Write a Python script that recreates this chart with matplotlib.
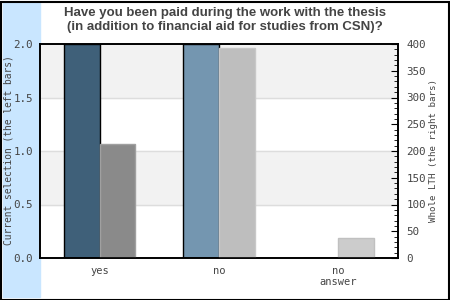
import matplotlib
matplotlib.use('Agg')
import matplotlib.pyplot as plt
import numpy as np
from matplotlib.patches import Rectangle

categories = ['yes', 'no', 'no\nanswer']
current_sel = [2, 2, 0]
whole_lth = [213, 393, 38]

left_colors = ['#3f6079', '#7496b0', '#9fb8cc']
right_colors = ['#8a8a8a', '#bebebe', '#cccccc']

fig = plt.figure(figsize=(4.5, 3), dpi=100)
fig.patches.append(Rectangle((3/450, 3/300), 37/450, 294/300, transform=fig.transFigure,
                             color='#c9e6ff', zorder=-1))
fig.patches.append(Rectangle((0.5/450, 0.5/300), 448/450, 298/300, transform=fig.transFigure,
                             fill=False, edgecolor='black', linewidth=1.5, zorder=5))

ax = fig.add_axes([40/450, 42/300, 358/450, 214/300])
ax2 = ax.twinx()

x = np.arange(len(categories))
w = 0.3

# striped background
for lo, hi in [(0.5, 1.0), (1.5, 2.0)]:
    ax.axhspan(lo, hi, color='#f2f2f2', zorder=0)
for yv in [0.5, 1.0, 1.5]:
    ax.axhline(yv, color='#dddddd', linewidth=1, zorder=0.5)

ax.bar(x - w/2, current_sel, width=w, color=left_colors, edgecolor='black', linewidth=1, zorder=2)
ax2.bar(x + w/2, whole_lth, width=w, color=right_colors, edgecolor=['#a0a0a0', '#c8c8c8', '#c0c0c0'],
        linewidth=1, zorder=2)

ax.set_xlim(-0.5, 2.5)
ax.set_ylim(0, 2.0)
ax2.set_ylim(0, 400)

mono = 'DejaVu Sans Mono'
tc = '#444444'
ax.set_yticks([0, 0.5, 1.0, 1.5, 2.0])
ax.set_yticklabels(['0.0', '0.5', '1.0', '1.5', '2.0'], family=mono, fontsize=7.8, color=tc)
ax.tick_params(axis='y', length=0, pad=5)
ax.set_xticks(x)
ax.set_xticklabels(categories, family=mono, fontsize=7.5, color=tc, linespacing=1.1)
ax.tick_params(axis='x', length=0, pad=6)

ax2.set_yticks(np.arange(0, 401, 50))
ax2.set_yticklabels([str(v) for v in range(0, 401, 50)], family=mono, fontsize=7.8, color=tc)
ax2.set_yticks(np.arange(0, 401, 10), minor=True)
ax2.tick_params(axis='y', which='major', direction='in', length=5, pad=6)
ax2.tick_params(axis='y', which='minor', direction='in', length=3)

# axis titles
fig.text(9/450, 150/300, 'Current selection (the left bars)', rotation=90, ha='center', va='center',
         family=mono, fontsize=6.9, color=tc)
fig.text(434/450, 150/300, 'Whole LTH (the right bars)', rotation=90, ha='center', va='center',
         family=mono, fontsize=6.6, color=tc)

for a in (ax, ax2):
    for s in a.spines.values():
        s.set_linewidth(1.2)
        s.set_color('black')

fig.text(0.5, 1 - 20/300, 'Have you been paid during the work with the thesis\n(in addition to financial aid for studies from CSN)?',
         ha='center', va='center', family='Liberation Sans', fontweight='bold', fontsize=9.5,
         color='#444444', linespacing=1.25)

fig.savefig('out.png', dpi=100)
